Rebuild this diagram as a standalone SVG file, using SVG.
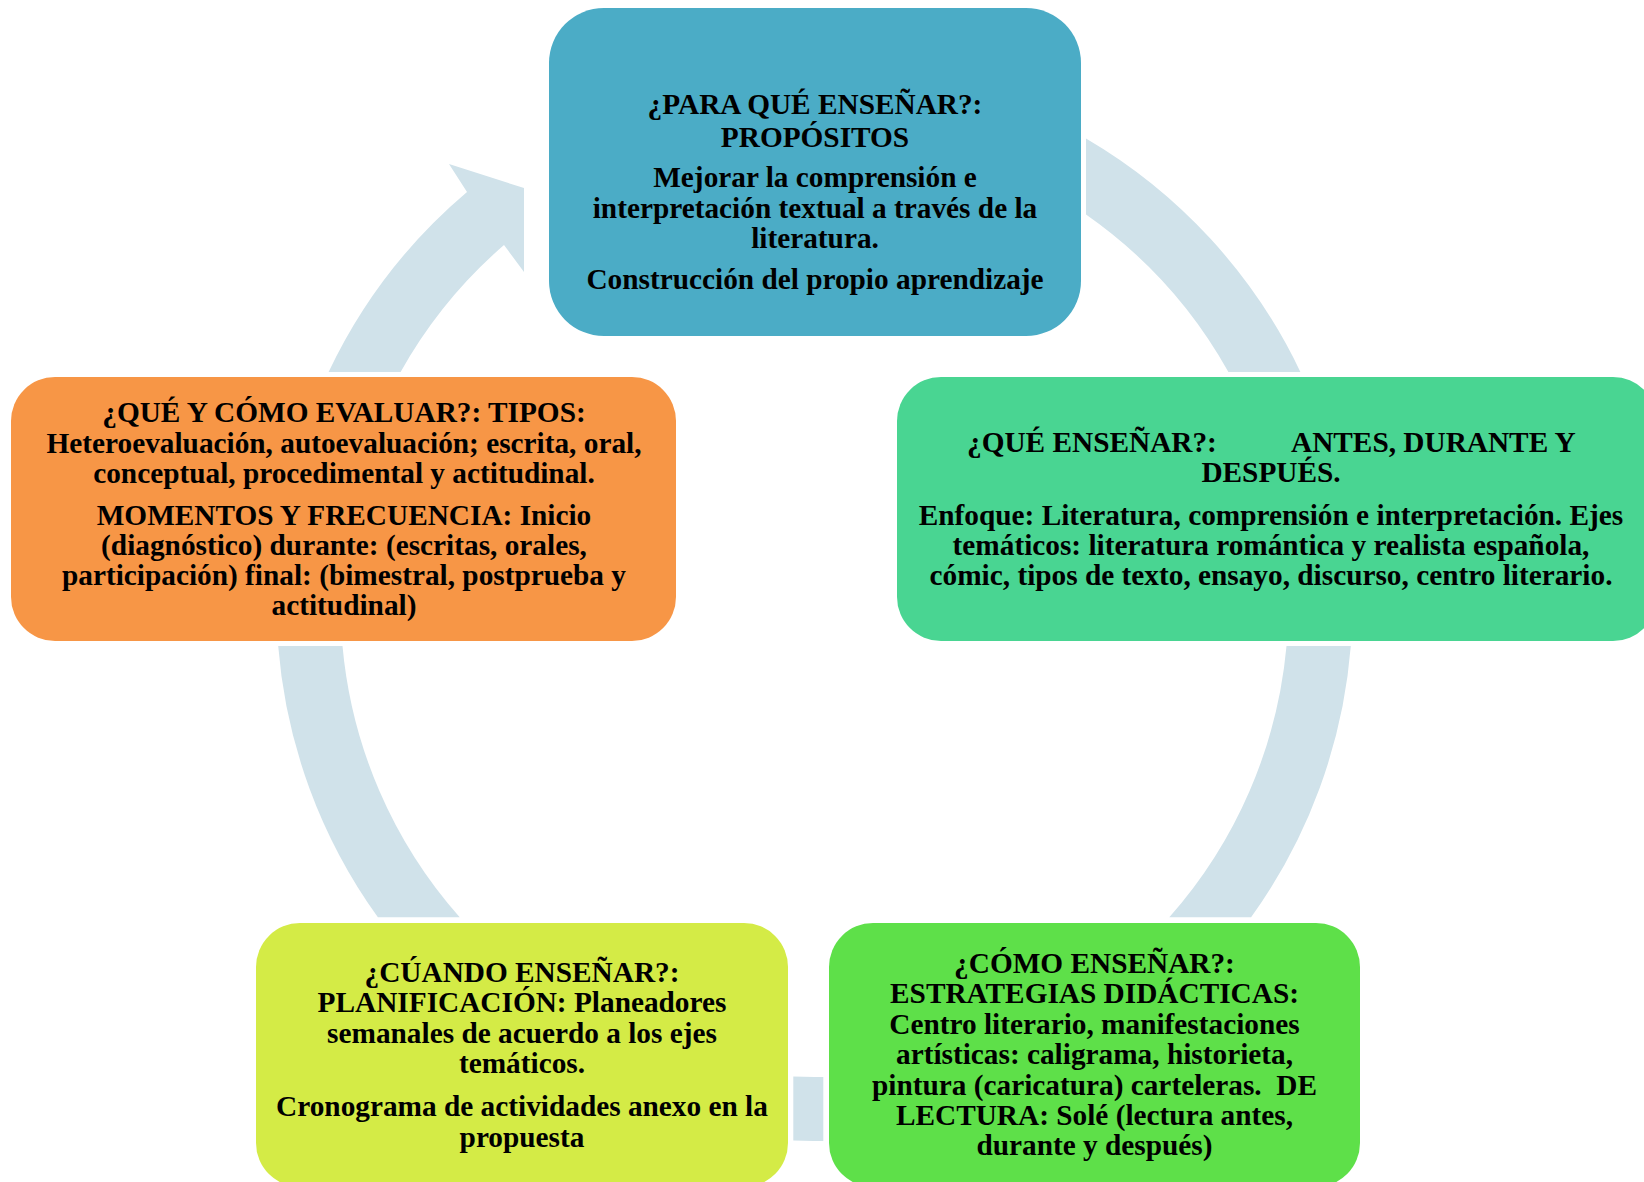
<svg xmlns="http://www.w3.org/2000/svg" width="1644" height="1182" viewBox="0 0 1644 1182">
<style>
.ring{fill:#D0E2EA;stroke:none}
.t{font-family:"Liberation Serif","Times New Roman",serif;font-weight:bold;font-size:29.3px;fill:#000;text-anchor:middle}
.b1{fill:#4BACC6}.b2{fill:#49D592}.b3{fill:#5EE049}.b4{fill:#D4EB46}.b5{fill:#F79646}
</style>
<rect width="1644" height="1182" fill="#fff"/>
<g id="connectors">
<path class="ring" d="M1086,138.5 A538,538 0 0 1 1300.4,372 L1228.4,372 A474,474 0 0 0 1086,214.5 Z"/>
<path class="ring" d="M1286.5,646 L1350.8,646 A538,538 0 0 1 1251.1,917.3 L1169.3,917.3 A474,474 0 0 0 1286.5,646 Z"/>
<path class="ring" d="M793.3,1076.5 A474,474 0 0 0 823.3,1076.9 L823.3,1140.9 A538,538 0 0 1 793.3,1140.6 Z"/>
<path class="ring" d="M278.2,646 L342.5,646 A474,474 0 0 0 459.7,917.3 L377.9,917.3 A538,538 0 0 1 278.2,646 Z"/>
<path class="ring" d="M328.6,372 A538,538 0 0 1 467,192 L449,164 L524,188 L524,272 L504,245 A474,474 0 0 0 400.6,372 Z"/>
</g>
<g id="node-para-que">
<rect class="b1" x="549" y="8" width="532" height="328" rx="55" ry="55"/>
<text class="t" x="815" y="113.5">¿PARA QUÉ ENSEÑAR?:</text>
<text class="t" x="815" y="146.5">PROPÓSITOS</text>
<text class="t" x="815" y="186.7">Mejorar la comprensión e</text>
<text class="t" x="815" y="217.7">interpretación textual a través de la</text>
<text class="t" x="815" y="248.3">literatura.</text>
<text class="t" x="815" y="289">Construcción del propio aprendizaje</text>
</g>
<g id="node-que-ensenar">
<rect class="b2" x="897" y="377" width="760" height="264" rx="44" ry="44"/>
<text class="t" y="451.5"><tspan x="967" text-anchor="start">¿QUÉ ENSEÑAR?:</tspan><tspan x="1291" text-anchor="start">ANTES, DURANTE Y</tspan></text>
<text class="t" x="1271" y="481.6">DESPUÉS.</text>
<text class="t" x="1271" y="524.6">Enfoque: Literatura, comprensión e interpretación. Ejes</text>
<text class="t" x="1271" y="554.8">temáticos: literatura romántica y realista española,</text>
<text class="t" x="1271" y="584.9">cómic, tipos de texto, ensayo, discurso, centro literario.</text>
</g>
<g id="node-como-ensenar">
<rect class="b3" x="829" y="923" width="531" height="264" rx="44" ry="44"/>
<text class="t" x="1094.5" y="972.5">¿CÓMO ENSEÑAR?:</text>
<text class="t" x="1094.5" y="1002.5">ESTRATEGIAS DIDÁCTICAS:</text>
<text class="t" x="1094.5" y="1034">Centro literario, manifestaciones</text>
<text class="t" x="1094.5" y="1064">artísticas: caligrama, historieta,</text>
<text class="t" x="1094.5" y="1094.5" xml:space="preserve">pintura (caricatura) carteleras.  DE</text>
<text class="t" x="1094.5" y="1124.6">LECTURA: Solé (lectura antes,</text>
<text class="t" x="1094.5" y="1154.8">durante y después)</text>
</g>
<g id="node-cuando-ensenar">
<rect class="b4" x="256" y="923" width="532" height="264" rx="44" ry="44"/>
<text class="t" x="522" y="981.5">¿CÚANDO ENSEÑAR?:</text>
<text class="t" x="522" y="1011.8">PLANIFICACIÓN: Planeadores</text>
<text class="t" x="522" y="1043">semanales de acuerdo a los ejes</text>
<text class="t" x="522" y="1073">temáticos.</text>
<text class="t" x="522" y="1115.6">Cronograma de actividades anexo en la</text>
<text class="t" x="522" y="1147">propuesta</text>
</g>
<g id="node-evaluar">
<rect class="b5" x="11" y="377" width="665" height="264" rx="44" ry="44"/>
<text class="t" x="344" y="421.8">¿QUÉ Y CÓMO EVALUAR?: TIPOS:</text>
<text class="t" x="344" y="452.8">Heteroevaluación, autoevaluación; escrita, oral,</text>
<text class="t" x="344" y="482.8">conceptual, procedimental y actitudinal.</text>
<text class="t" x="344" y="524.5">MOMENTOS Y FRECUENCIA: Inicio</text>
<text class="t" x="344" y="554.8">(diagnóstico) durante: (escritas, orales,</text>
<text class="t" x="344" y="584.8">participación) final: (bimestral, postprueba y</text>
<text class="t" x="344" y="614.8">actitudinal)</text>
</g>
</svg>
